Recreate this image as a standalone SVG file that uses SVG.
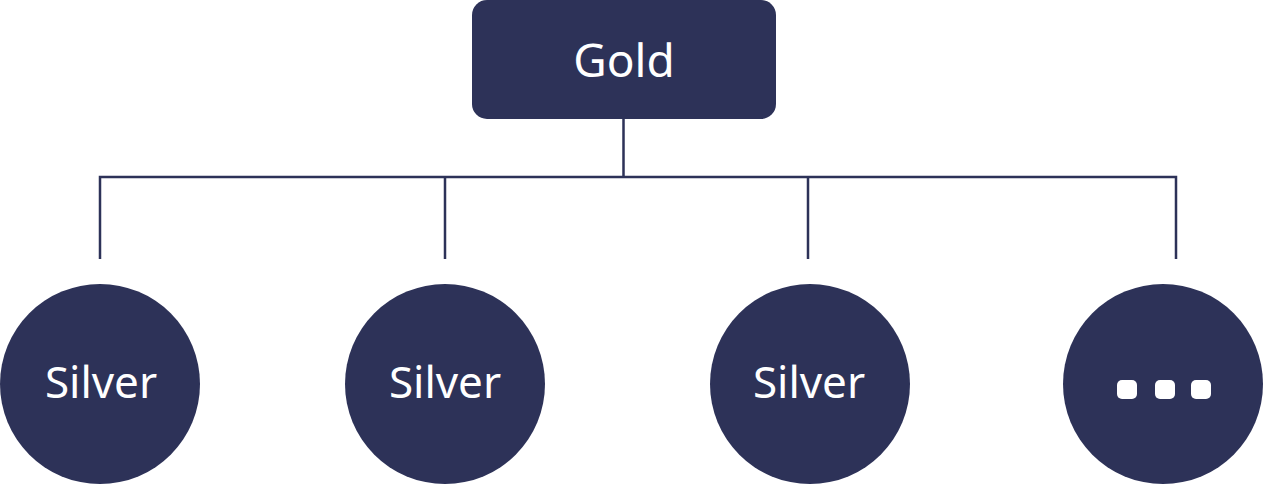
<svg xmlns="http://www.w3.org/2000/svg" width="1264" height="484" viewBox="0 0 1264 484">
<style>
.n{fill:#2d3258}
.t{fill:#fff;font-family:"Noto Sans",sans-serif;font-size:44px;text-anchor:middle}
.c{stroke:#2d3258;stroke-width:2.5;fill:none}
.d{fill:#fff}
</style>
<rect width="1264" height="484" fill="#fff"/>
<g id="connectors" class="c">
<path d="M623.5,119V177M100,259V177H1176V259M445,177V259M808,177V259"/>
</g>
<g id="gold"><rect class="n" x="472" y="0" width="304" height="119" rx="15"/><text class="t" x="624" y="77" style="font-size:46px">Gold</text></g>
<g id="silver1"><circle class="n" cx="100" cy="384" r="100"/><text class="t" x="101" y="398">Silver</text></g>
<g id="silver2"><circle class="n" cx="445" cy="384" r="100"/><text class="t" x="445" y="398">Silver</text></g>
<g id="silver3"><circle class="n" cx="810" cy="384" r="100"/><text class="t" x="809" y="398">Silver</text></g>
<g id="more"><circle class="n" cx="1163" cy="384" r="100"/>
<rect class="d" x="1117" y="380" width="20" height="19" rx="5"/>
<rect class="d" x="1155" y="380" width="20" height="19" rx="5"/>
<rect class="d" x="1191" y="380" width="20" height="19" rx="5"/>
</g>
</svg>
